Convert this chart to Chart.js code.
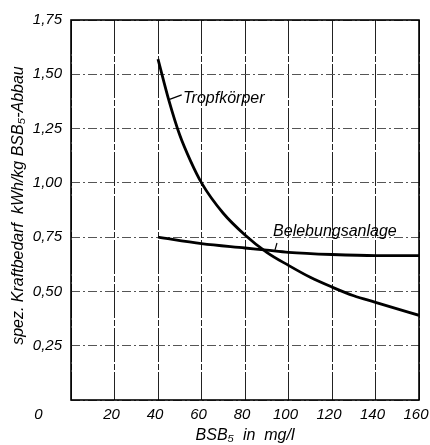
<!DOCTYPE html>
<html><head><meta charset="utf-8">
<script src="https://cdn.jsdelivr.net/npm/chart.js@4"></script>
<style>html,body{margin:0;padding:0;background:#fff}#wrap{width:430px;height:445px}</style>
</head><body><div id="wrap"><canvas id="c" width="430" height="445"></canvas></div>
<script>
const xTicks = [0, 20, 40, 60, 80, 100, 120, 140, 160];
const yTicks = [0, 0.25, 0.5, 0.75, 1.0, 1.25, 1.5, 1.75];
const tropfX = [40, 45, 50, 55, 60, 70, 80, 90, 100, 110, 120, 130, 140, 150, 160];
const tropfY = [1.57, 1.38, 1.22, 1.10, 1.00, 0.86, 0.76, 0.68, 0.62, 0.565, 0.52, 0.48, 0.45, 0.42, 0.39];
const belebX = [40, 60, 80, 90, 100, 120, 140, 160];
const belebY = [0.75, 0.72, 0.70, 0.69, 0.68, 0.67, 0.665, 0.665];
const seriesNames = ['Tropfkörper', 'Belebungsanlage'];

const FONT = '"Liberation Sans", "DejaVu Sans", sans-serif';

const toPts = (xs, ys) => xs.map((x, i) => ({x: x, y: ys[i]}));

const labelPlugin = {
  id: 'labels',
  afterDatasetsDraw(chart) {
    const {ctx, chartArea: a, scales: {x, y}} = chart;
    ctx.save();
    ctx.setLineDash([]);
    // frame
    ctx.strokeStyle = '#000';
    ctx.lineWidth = 1.6;
    ctx.strokeRect(a.left, a.top, a.right - a.left, a.bottom - a.top);
    // annotations (in data coordinates)
    const notes = [
      {text: seriesNames[0], tx: 51.5, ty: 1.39, l: [[44.7, 1.382], [50.9, 1.405]]},
      {text: seriesNames[1], tx: 92.9, ty: 0.778, l: [[94.7, 0.723], [93.8, 0.691]]}
    ];
    ctx.font = 'italic 16px ' + FONT;
    ctx.fillStyle = '#000';
    ctx.textBaseline = 'middle';
    ctx.textAlign = 'left';
    ctx.lineWidth = 1.2;
    notes.forEach(n => {
      ctx.fillText(n.text, x.getPixelForValue(n.tx), y.getPixelForValue(n.ty));
      ctx.beginPath();
      ctx.moveTo(x.getPixelForValue(n.l[0][0]), y.getPixelForValue(n.l[0][1]));
      ctx.lineTo(x.getPixelForValue(n.l[1][0]), y.getPixelForValue(n.l[1][1]));
      ctx.stroke();
    });
    // origin label "0" at corner
    ctx.font = 'italic 15px ' + FONT;
    ctx.textAlign = 'center';
    ctx.fillText('0', x.getPixelForValue(-15), y.bottom + 15);
    ctx.restore();
  }
};

new Chart(document.getElementById('c'), {
  type: 'line',
  data: {
    datasets: [
      {label: seriesNames[0], data: toPts(tropfX, tropfY), borderColor: '#000', borderWidth: 2.8,
       pointRadius: 0, cubicInterpolationMode: 'monotone', fill: false},
      {label: seriesNames[1], data: toPts(belebX, belebY), borderColor: '#000', borderWidth: 2.8,
       pointRadius: 0, cubicInterpolationMode: 'monotone', fill: false}
    ]
  },
  options: {
    responsive: false,
    animation: false,
    devicePixelRatio: 1,
    layout: {padding: {top: 20, right: 11, left: 0, bottom: 0}},
    plugins: {legend: {display: false}, tooltip: {enabled: false}},
    scales: {
      x: {
        type: 'linear', min: 0, max: 160,
        afterBuildTicks: s => { s.ticks = xTicks.map(v => ({value: v})); },
        afterFit: s => { s.height = 45; s.paddingLeft = 0; s.paddingRight = 0; },
        ticks: {
          padding: 6, labelOffset: -3, maxRotation: 0, autoSkip: false, color: '#000',
          font: {family: FONT, size: 15, style: 'italic'},
          callback: v => v === 0 ? '' : String(v)
        },
        grid: {color: '#222', lineWidth: 1, drawTicks: false},
        border: {display: false, dash: [34, 2, 6, 2]},
        title: {display: true, text: 'BSB₅  in  mg/l', color: '#000', padding: {top: 0, bottom: 0},
                font: {family: FONT, size: 16, style: 'italic', lineHeight: 1.2}}
      },
      y: {
        type: 'linear', min: 0, max: 1.75,
        afterBuildTicks: s => { s.ticks = yTicks.map(v => ({value: v})); },
        afterFit: s => { s.width = 71; s.paddingTop = 0; s.paddingBottom = 0; },
        ticks: {
          padding: 9, autoSkip: false, color: '#000',
          font: {family: FONT, size: 15, style: 'italic'},
          callback: v => v === 0 ? '' : v.toFixed(2).replace('.', ',')
        },
        grid: {color: '#555', lineWidth: 1, drawTicks: false},
        border: {display: false, dash: [9, 3, 2, 3]},
        title: {display: true, text: '  spez. Kraftbedarf  kWh/kg BSB₅-Abbau', color: '#000',
                padding: {top: 9, bottom: 0},
                font: {family: FONT, size: 16, style: 'italic', lineHeight: 1.2}}
      }
    }
  },
  plugins: [labelPlugin]
});
</script>
</body></html>
